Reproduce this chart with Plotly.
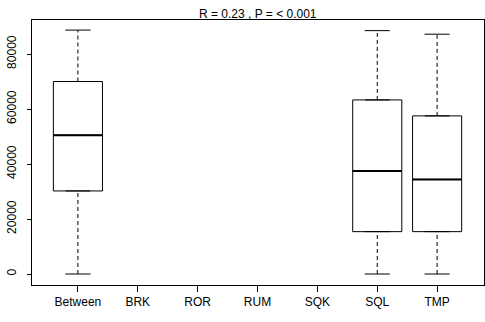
import plotly.graph_objects as go

categories = ["Between", "BRK", "ROR", "RUM", "SQK", "SQL", "TMP"]
whisker_low = [0, None, None, None, None, 0, 0]
q1 = [30200, None, None, None, None, 15400, 15400]
median = [50500, None, None, None, None, 37500, 34400]
q3 = [70000, None, None, None, None, 63300, 57500]
whisker_high = [88700, None, None, None, None, 88500, 87200]
y_ticks = [0, 20000, 40000, 60000, 80000]
title_text = "R = 0.23 , P = < 0.001"

BOX_W = 0.82
CAP_W = 0.42
FONT = "Liberation Sans, Arial, sans-serif"

fig = go.Figure()
for i, cat in enumerate(categories):
    if q1[i] is None:
        continue
    # dashed whiskers
    fig.add_trace(go.Scatter(
        x=[i, i, None, i, i],
        y=[whisker_low[i], q1[i], None, q3[i], whisker_high[i]],
        mode="lines", line=dict(color="black", width=1, dash="4px,3px"),
        showlegend=False, hoverinfo="skip"))
    # caps
    fig.add_trace(go.Scatter(
        x=[i - CAP_W / 2, i + CAP_W / 2, None, i - CAP_W / 2, i + CAP_W / 2],
        y=[whisker_low[i], whisker_low[i], None, whisker_high[i], whisker_high[i]],
        mode="lines", line=dict(color="black", width=1),
        showlegend=False, hoverinfo="skip"))
    # box
    fig.add_trace(go.Box(
        x=[i], q1=[q1[i]], median=[median[i]], q3=[q3[i]],
        lowerfence=[q1[i]], upperfence=[q3[i]],
        width=BOX_W, fillcolor="white", line=dict(color="black", width=1),
        boxpoints=False, showlegend=False, name=cat))
    # thick median
    fig.add_trace(go.Scatter(
        x=[i - BOX_W / 2, i + BOX_W / 2], y=[median[i], median[i]],
        mode="lines", line=dict(color="black", width=2),
        showlegend=False, hoverinfo="skip"))

fig.update_layout(
    width=485, height=322,
    margin=dict(l=32, r=1, t=20, b=37),
    paper_bgcolor="white", plot_bgcolor="white",
    font=dict(family=FONT, size=12, color="black"),
    showlegend=False,
    xaxis=dict(
        range=[-0.767, 6.783], tickmode="array",
        tickvals=list(range(len(categories))), ticktext=categories,
        ticks="outside", ticklen=6, tickcolor="black",
        showline=True, mirror=True, linecolor="black", linewidth=1,
        showgrid=False, zeroline=False, tickfont=dict(size=12),
        automargin=False),
    yaxis=dict(
        range=[-4000, 92364], tickmode="array", tickvals=y_ticks,
        ticktext=[str(v) for v in y_ticks], tickangle=-90,
        ticks="outside", ticklen=4, tickcolor="black",
        showline=True, mirror=True, linecolor="black", linewidth=1,
        showgrid=False, zeroline=False, tickfont=dict(size=12),
        ticklabelstandoff=6, automargin=False),
    annotations=[dict(
        text=title_text, x=0.5, y=1, xref="paper", yref="paper",
        xanchor="center", yanchor="bottom", showarrow=False,
        font=dict(size=12), yshift=-3)],
)

fig.write_html("out.html", config={"displayModeBar": False},
               post_script="document.body.style.margin='0';")
